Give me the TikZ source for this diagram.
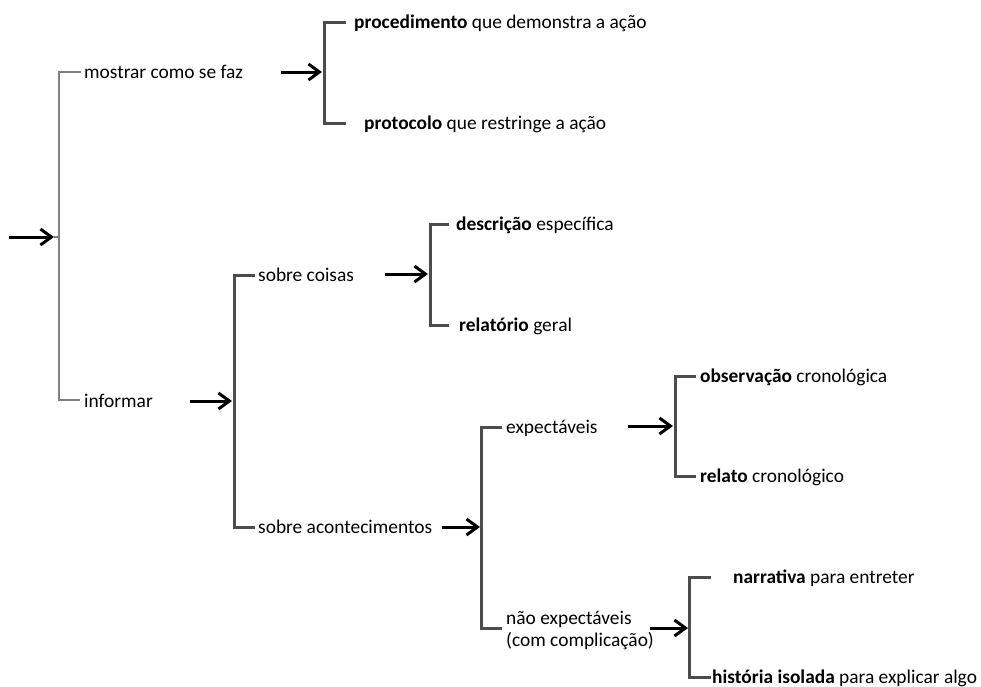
\documentclass[tikz,border=0pt]{standalone}
\usepackage{fontspec}
\setmainfont{Carlito}
\usetikzlibrary{arrows.meta}
\begin{document}
\begin{tikzpicture}[x=1pt,y=-1pt,
  lbl/.style={anchor=base west, inner sep=0pt, font=\fontsize{19.4}{22}\selectfont},
  thinbar/.style={draw=black!50, line width=1.4pt},
  barline/.style={draw=black!70, line width=3pt},
  arr/.style={-{Straight Barb[length=11pt,width=16pt]}, line width=3pt, black}]
\useasboundingbox (0,0) rectangle (981,686);

% ---------- level 0 ----------
\coordinate (in0) at (9,237);
\coordinate (b0) at (54,237);
\coordinate (b0t) at (59,72);
\coordinate (b0b) at (59,400);
\coordinate (t0a) at (81,72);
\coordinate (t0b) at (80,400);
\draw[thinbar] (t0a) -- (b0t) -- (b0b) -- (t0b);
\draw[thinbar] (54,237) -- (59,237);
\draw[arr] (in0) -- (b0);
\node[lbl] (mostrar) at (84,78) {mostrar como se faz};
\node[lbl] (informar) at (84,407) {informar};

% ---------- mostrar ----------
\coordinate (am0) at (281,72);
\coordinate (am1) at (322,72);
\coordinate (bmt) at (324,22);
\coordinate (bmb) at (324,123);
\coordinate (tma) at (346,22);
\coordinate (tmb) at (346,123);
\draw[barline] (tma) -- (bmt) -- (bmb) -- (tmb);
\draw[arr] (am0) -- (am1);
\node[lbl] (proc) at (354,28) {\textbf{procedimento} que demonstra a ação};
\node[lbl] (prot) at (364,129) {\textbf{protocolo} que restringe a ação};

% ---------- informar ----------
\coordinate (ai0) at (190,401);
\coordinate (ai1) at (232,401);
\coordinate (bit) at (234,275);
\coordinate (bib) at (234,527);
\coordinate (tia) at (255,275);
\coordinate (tib) at (255,527);
\draw[barline] (tia) -- (bit) -- (bib) -- (tib);
\draw[arr] (ai0) -- (ai1);
\node[lbl] (coisas) at (258,281) {sobre coisas};
\node[lbl] (acont) at (258,533) {sobre acontecimentos};

% ---------- sobre coisas ----------
\coordinate (ac0) at (385,274);
\coordinate (ac1) at (428,274);
\coordinate (bct) at (430,224);
\coordinate (bcb) at (430,325);
\coordinate (tca) at (449,224);
\coordinate (tcb) at (449,325);
\draw[barline] (tca) -- (bct) -- (bcb) -- (tcb);
\draw[arr] (ac0) -- (ac1);
\node[lbl] (descr) at (456,230) {\textbf{descrição} específica};
\node[lbl] (relat) at (459,331) {\textbf{relatório} geral};

% ---------- sobre acontecimentos ----------
\coordinate (aa0) at (442,527);
\coordinate (aa1) at (480,527);
\coordinate (bat) at (481,427);
\coordinate (bab) at (481,628);
\coordinate (taa) at (502,427);
\coordinate (tab) at (502,628);
\draw[barline] (taa) -- (bat) -- (bab) -- (tab);
\draw[arr] (aa0) -- (aa1);
\node[lbl] (expect) at (506,433) {expectáveis};
\node[lbl] (nexpa) at (506,624) {não expectáveis};
\node[lbl] (nexpb) at (506,646) {(com complicação)};

% ---------- expectaveis ----------
\coordinate (ae0) at (628,426);
\coordinate (ae1) at (673,426);
\coordinate (bet) at (675,376);
\coordinate (beb) at (675,476);
\coordinate (tea) at (696,376);
\coordinate (teb) at (696,476);
\draw[barline] (tea) -- (bet) -- (beb) -- (teb);
\draw[arr] (ae0) -- (ae1);
\node[lbl] (obs) at (700,382) {\textbf{observação} cronológica};
\node[lbl] (rcron) at (700,482) {\textbf{relato} cronológico};

% ---------- nao expectaveis ----------
\coordinate (an0) at (650,628);
\coordinate (an1) at (688,628);
\coordinate (bnt) at (689,577);
\coordinate (bnb) at (689,677);
\coordinate (tna) at (711,577);
\coordinate (tnb) at (711,677);
\draw[barline] (tna) -- (bnt) -- (bnb) -- (tnb);
\draw[arr] (an0) -- (an1);
\node[lbl] (narr) at (733,583) {\textbf{narrativa} para entreter};
\node[lbl] (hist) at (712,683) {\textbf{história isolada} para explicar algo};
\end{tikzpicture}
\end{document}
